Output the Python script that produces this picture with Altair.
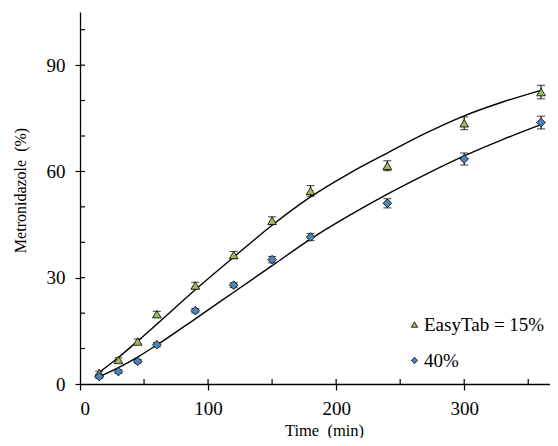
import altair as alt
import pandas as pd

# ---- data ----
series_names = ["EasyTab = 15%", "40%"]
times = [15, 30, 45, 60, 90, 120, 150, 180, 240, 300, 360]
green = [3.1, 6.8, 12.0, 19.7, 27.8, 36.4, 46.1, 54.5, 61.6, 73.6, 82.4]
green_err = [0.5, 0.6, 0.7, 0.8, 0.9, 1.0, 1.1, 1.5, 1.4, 1.8, 1.9]
blue = [2.1, 3.5, 6.4, 11.1, 20.7, 27.9, 35.1, 41.5, 51.0, 63.5, 73.8]
blue_err = [0.5, 0.5, 0.5, 0.6, 0.6, 0.7, 0.9, 1.0, 1.3, 1.7, 1.8]

fit_t = [15, 30, 45, 60, 90, 120, 150, 180, 210, 240, 270, 300, 330, 360]
fit_green = [3.3, 7.5, 12.1, 16.9, 26.6, 35.8, 44.8, 52.8, 59.4, 65.2, 70.8, 75.7, 79.6, 82.9]
fit_blue = [2.0, 4.6, 7.6, 11.0, 18.4, 25.9, 33.4, 40.9, 47.5, 53.6, 59.2, 64.4, 69.0, 73.2]

x_major = [0, 100, 200, 300]
x_inner = [50, 100, 150, 200, 250, 300, 350]
y_major = [0, 30, 60, 90]
y_inner = [10, 20, 30, 40, 50, 60, 70, 80, 90, 100]

colors = ["#9BBB59", "#4F81BD"]
shapes = ["triangle-up", "diamond"]

pts = pd.DataFrame({
    "t": times * 2,
    "v": green + blue,
    "lo": [v - e for v, e in zip(green, green_err)] + [v - e for v, e in zip(blue, blue_err)],
    "hi": [v + e for v, e in zip(green, green_err)] + [v + e for v, e in zip(blue, blue_err)],
    "s": [series_names[0]] * len(times) + [series_names[1]] * len(times),
})
fit = pd.DataFrame({
    "t": fit_t * 2,
    "v": fit_green + fit_blue,
    "s": [series_names[0]] * len(fit_t) + [series_names[1]] * len(fit_t),
})
xin = pd.DataFrame({"tick": x_inner})
yin = pd.DataFrame({"tick": y_inner})

FONT = "Liberation Serif, Times New Roman, DejaVu Serif, serif"
W, H = 470, 372
xs = alt.Scale(domain=[0, 367], nice=False, zero=False)
ys = alt.Scale(domain=[0, 105], nice=False)

x_axis = alt.Axis(
    values=x_major, title="Time\u00a0 (min)", tickSize=6, labelPadding=9,
    labelFontSize=19, labelFont=FONT, labelColor="black",
    titleFont=FONT, titleFontSize=16.5, titleFontWeight="normal", titleColor="black",
    titleX=244, titleY=46, titleBaseline="middle",
    domainColor="black", tickColor="black", domainWidth=1.3, tickWidth=1.2, grid=False)
y_axis = alt.Axis(
    values=y_major, title="Metronidazole\u00a0 (%)", tickSize=5, labelPadding=10,
    labelFontSize=19, labelFont=FONT, labelColor="black",
    titleFont=FONT, titleFontSize=16, titleFontWeight="normal", titleColor="black",
    titleAngle=-90, titleX=-60, titleY=178, titleAlign="center", titleBaseline="middle",
    domainColor="black", tickColor="black", domainWidth=1.3, tickWidth=1.2, grid=False)

lines = alt.Chart(fit).mark_line(color="black", strokeWidth=1.4, interpolate="monotone").encode(
    x=alt.X("t:Q", scale=xs, axis=x_axis), y=alt.Y("v:Q", scale=ys, axis=y_axis), detail="s:N")

xticks_in = alt.Chart(xin).mark_tick(orient="vertical", size=5, thickness=1.2, color="black",
                                     yOffset=-2.5, opacity=1).encode(
    x=alt.X("tick:Q", scale=xs, axis=x_axis), y=alt.YDatum(0, scale=ys, axis=y_axis))
yticks_in = alt.Chart(yin).mark_tick(orient="horizontal", size=5, thickness=1.2, color="black",
                                     xOffset=2.5, opacity=1).encode(
    y=alt.Y("tick:Q", scale=ys, axis=y_axis), x=alt.XDatum(0, scale=xs, axis=x_axis))

errs = alt.Chart(pts).mark_errorbar(ticks={"size": 8, "color": "black"}, color="black", thickness=1.1).encode(
    x=alt.X("t:Q", scale=xs, axis=x_axis),
    y=alt.Y("lo:Q", scale=ys, axis=y_axis),
    y2="hi:Q")

points = alt.Chart(pts).mark_point(filled=True, size=75, stroke="black", strokeWidth=0.8, opacity=1).encode(
    x=alt.X("t:Q", scale=xs, axis=x_axis),
    y=alt.Y("v:Q", scale=ys, axis=y_axis),
    fill=alt.Fill("s:N", scale=alt.Scale(domain=series_names, range=colors), title=None,
                  legend=alt.Legend(orient="none", legendX=325, legendY=303, labelFont=FONT,
                                    labelFontSize=19, labelColor="black", symbolSize=40,
                                    symbolStrokeColor="black", symbolStrokeWidth=0.8,
                                    rowPadding=16, labelOffset=0)),
    shape=alt.Shape("s:N", scale=alt.Scale(domain=series_names, range=shapes), title=None),
)

chart = alt.layer(lines, xticks_in, yticks_in, errs, points).properties(
    width=W, height=H,
    autosize=alt.AutoSizeParams(type="none"),
    padding={"left": 72, "top": 4, "right": 0, "bottom": 54},
    background="white",
).configure(font=FONT).configure_view(stroke=None)

chart.save("out.html", embed_options={"renderer": "svg", "actions": False})
